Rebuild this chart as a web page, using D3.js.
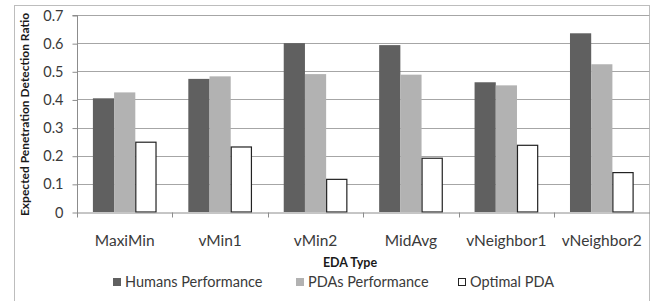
<!DOCTYPE html>
<html>
<head>
<meta charset="utf-8">
<script src="https://cdn.jsdelivr.net/npm/d3@7"></script>
<style>
  body { margin: 0; background: #fff; }
  svg { display: block; font-family: Lato, "Open Sans", sans-serif; }
</style>
</head>
<body>
<svg id="chart" width="651" height="301"></svg>
<script>
const categories = ["MaxiMin", "vMin1", "vMin2", "MidAvg", "vNeighbor1", "vNeighbor2"];
const seriesNames = ["Humans Performance", "PDAs Performance", "Optimal PDA"];
const humans = [0.404, 0.473, 0.600, 0.593, 0.461, 0.635];
const pdas = [0.425, 0.482, 0.490, 0.488, 0.450, 0.525];
const optimal = [0.248, 0.231, 0.116, 0.191, 0.237, 0.140];
const yTicks = [0, 0.1, 0.2, 0.3, 0.4, 0.5, 0.6, 0.7];

const fills = ["#606060", "#b2b2b2", "#ffffff"];
const strokes = ["none", "none", "#222"];

const margin = {top: 15, left: 77, right: 1.5, bottom: 89};
const W = 651, H = 301;

const svg = d3.select("#chart");

// outer frame
svg.append("rect")
  .attr("x", 14.5).attr("y", 5.5)
  .attr("width", 635).attr("height", 310)
  .attr("fill", "none").attr("stroke", "#bdbdbd");

const x = d3.scaleBand()
  .domain(categories)
  .range([margin.left, W - margin.right]);

const y = d3.scaleLinear()
  .domain([0, 0.7])
  .range([H - margin.bottom, margin.top]);

const barW = x.bandwidth() / 4.5;
const inner = d3.scaleBand()
  .domain(seriesNames)
  .range([0, barW * 3]);

// grid
svg.append("g")
  .selectAll("line")
  .data(yTicks.filter(d => d > 0))
  .join("line")
  .attr("x1", margin.left).attr("x2", W - margin.right)
  .attr("y1", d => Math.round(y(d)) + 0.5).attr("y2", d => Math.round(y(d)) + 0.5)
  .attr("stroke", "#a6a6a6");

const data = categories.map((c, i) => ({cat: c, vals: [humans[i], pdas[i], optimal[i]]}));

svg.append("g")
  .selectAll("g")
  .data(data)
  .join("g")
  .attr("transform", d => `translate(${x(d.cat) + (x.bandwidth() - barW * 3) / 2},0)`)
  .selectAll("rect")
  .data(d => d.vals.map((v, k) => ({v, k})))
  .join("rect")
  .attr("x", d => inner(seriesNames[d.k]) + (d.k === 2 ? 0.5 : 0))
  .attr("y", d => y(d.v))
  .attr("width", d => inner.bandwidth() - (d.k === 2 ? 1 : 0))
  .attr("height", d => y(0) - y(d.v))
  .attr("fill", d => fills[d.k])
  .attr("stroke", d => strokes[d.k])
  .attr("stroke-width", 1.2);

// y axis
const yAxis = svg.append("g")
  .attr("transform", `translate(${margin.left + 0.5},0.5)`)
  .call(d3.axisLeft(y).tickValues(yTicks).tickSize(5).tickPadding(9)
    .tickFormat(d => d === 0 ? "0" : d3.format(".1f")(d)));
yAxis.select(".domain").attr("stroke", "#8c8c8c").attr("d", `M-5,${y(0.7)}H0V${y(0) + 5}`);
yAxis.selectAll(".tick line").attr("stroke", "#8c8c8c");
yAxis.selectAll("text").attr("font-size", 14.5).attr("fill", "#3a3a3a").attr("font-family", "Lato, sans-serif");

// x axis
const xAxis = svg.append("g")
  .attr("transform", `translate(0,${Math.round(y(0)) + 0.5})`)
  .call(d3.axisBottom(x).tickSize(0).tickPadding(22));
xAxis.select(".domain").attr("stroke", "#8c8c8c");
xAxis.selectAll("text").attr("font-size", 15.5).attr("fill", "#3a3a3a").attr("font-family", "Lato, sans-serif");
xAxis.append("g")
  .selectAll("line")
  .data(categories.slice(1))
  .join("line")
  .attr("x1", d => Math.round(x(d)) + 0.5).attr("x2", d => Math.round(x(d)) + 0.5)
  .attr("y1", 0).attr("y2", 5)
  .attr("stroke", "#8c8c8c");

// axis titles
svg.append("text")
  .attr("transform", `translate(29,${(y(0) + y(0.7)) / 2 + 1}) rotate(-90)`)
  .attr("text-anchor", "middle")
  .attr("font-size", 12).attr("font-weight", "bold").attr("fill", "#1a1a1a")
  .text("Expected Penetration Detection Ratio");

svg.append("text")
  .attr("x", 350).attr("y", 267)
  .attr("text-anchor", "middle")
  .attr("font-size", 12.5).attr("font-weight", "bold").attr("fill", "#1a1a1a")
  .text("EDA Type");

// legend
const legendX = [113, 296, 458];
const legend = svg.append("g")
  .selectAll("g")
  .data(seriesNames)
  .join("g")
  .attr("transform", (d, i) => `translate(${legendX[i]},278)`);
legend.append("rect")
  .attr("x", (d, i) => i === 2 ? 0.5 : 0).attr("y", (d, i) => i === 2 ? 0.5 : 0)
  .attr("width", (d, i) => i === 2 ? 7 : 8).attr("height", (d, i) => i === 2 ? 7 : 8)
  .attr("fill", (d, i) => fills[i])
  .attr("stroke", (d, i) => strokes[i]);
legend.append("text")
  .attr("x", 12).attr("y", 9)
  .attr("font-size", 14.5).attr("fill", "#3a3a3a")
  .text(d => d);
</script>
</body>
</html>
